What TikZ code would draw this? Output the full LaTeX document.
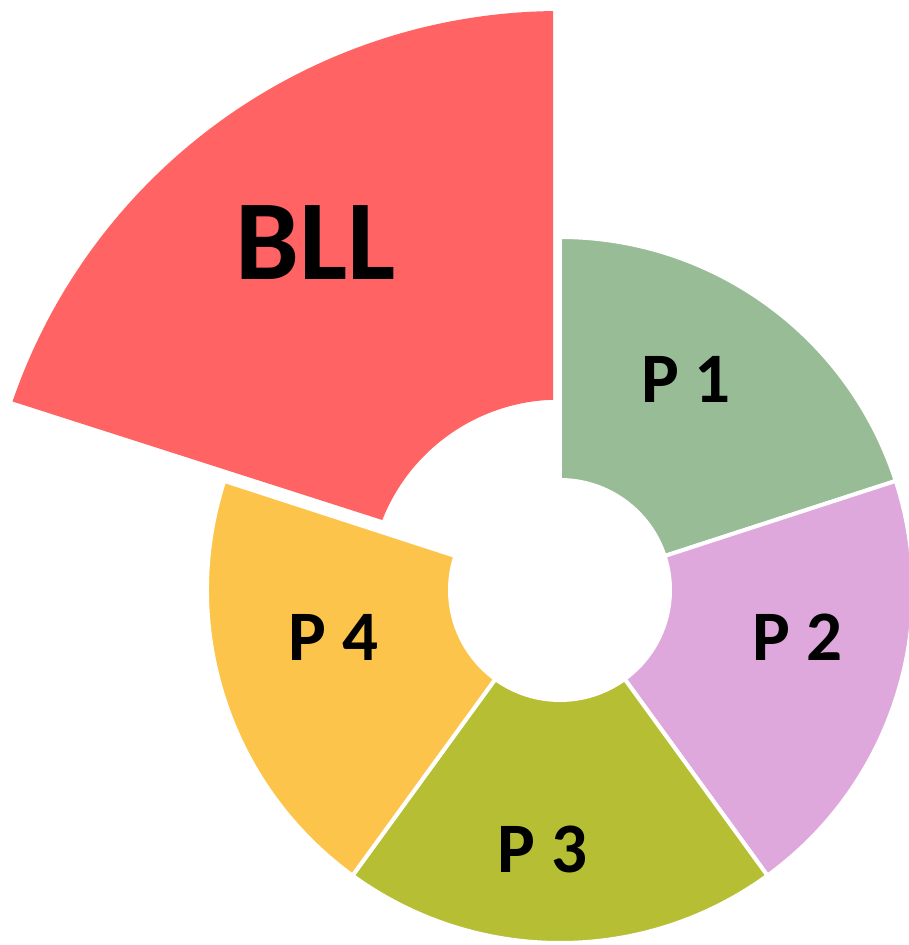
\documentclass[tikz,border=0pt]{standalone}
\usepackage{fontspec}
\setmainfont{Carlito}
\definecolor{bllred}{RGB}{255,99,99}
\definecolor{pone}{RGB}{152,188,150}
\definecolor{ptwo}{RGB}{222,168,220}
\definecolor{pthree}{RGB}{182,191,52}
\definecolor{pfour}{RGB}{253,196,76}
\begin{document}
\begin{tikzpicture}[x=1pt,y=1pt,
  seg/.style={draw=white,line width=4pt,line join=round},
  plabel/.style={anchor=base,inner sep=0pt,font=\fontsize{71}{80}\selectfont\bfseries},
  blabel/.style={anchor=base,inner sep=0pt,font=\fontsize{114}{120}\selectfont\bfseries}]
\useasboundingbox (-560,-355) rectangle (348,590);
\fill[white] (-560,-355) rectangle (348,590);
% BLL segment
\fill[bllred] (92.1:190) -- (90.69:579) arc[start angle=90.69, end angle=161, radius=579]
  -- (158.5:191) arc[start angle=158.5, end angle=92.1, radius=190] -- cycle;
% P segments
\foreach \a/\c in {90/pone,18/ptwo,-54/pthree,-126/pfour}{
  \filldraw[seg,fill=\c] (\a:110) -- (\a:353) arc[start angle=\a, end angle=\a-72, radius=353]
    -- (\a-72:110) arc[start angle=\a-72, end angle=\a, radius=110] -- cycle;
}
\node[blabel] (bll) at (-244.5,310) {BLL};
\node[plabel] (p1) at (126,187) {P 1};
\node[plabel] (p2) at (237.5,-70) {P 2};
\node[plabel] (p3) at (-17.5,-282) {P 3};
\node[plabel] (p4) at (-226.5,-70) {P 4};
\end{tikzpicture}
\end{document}
